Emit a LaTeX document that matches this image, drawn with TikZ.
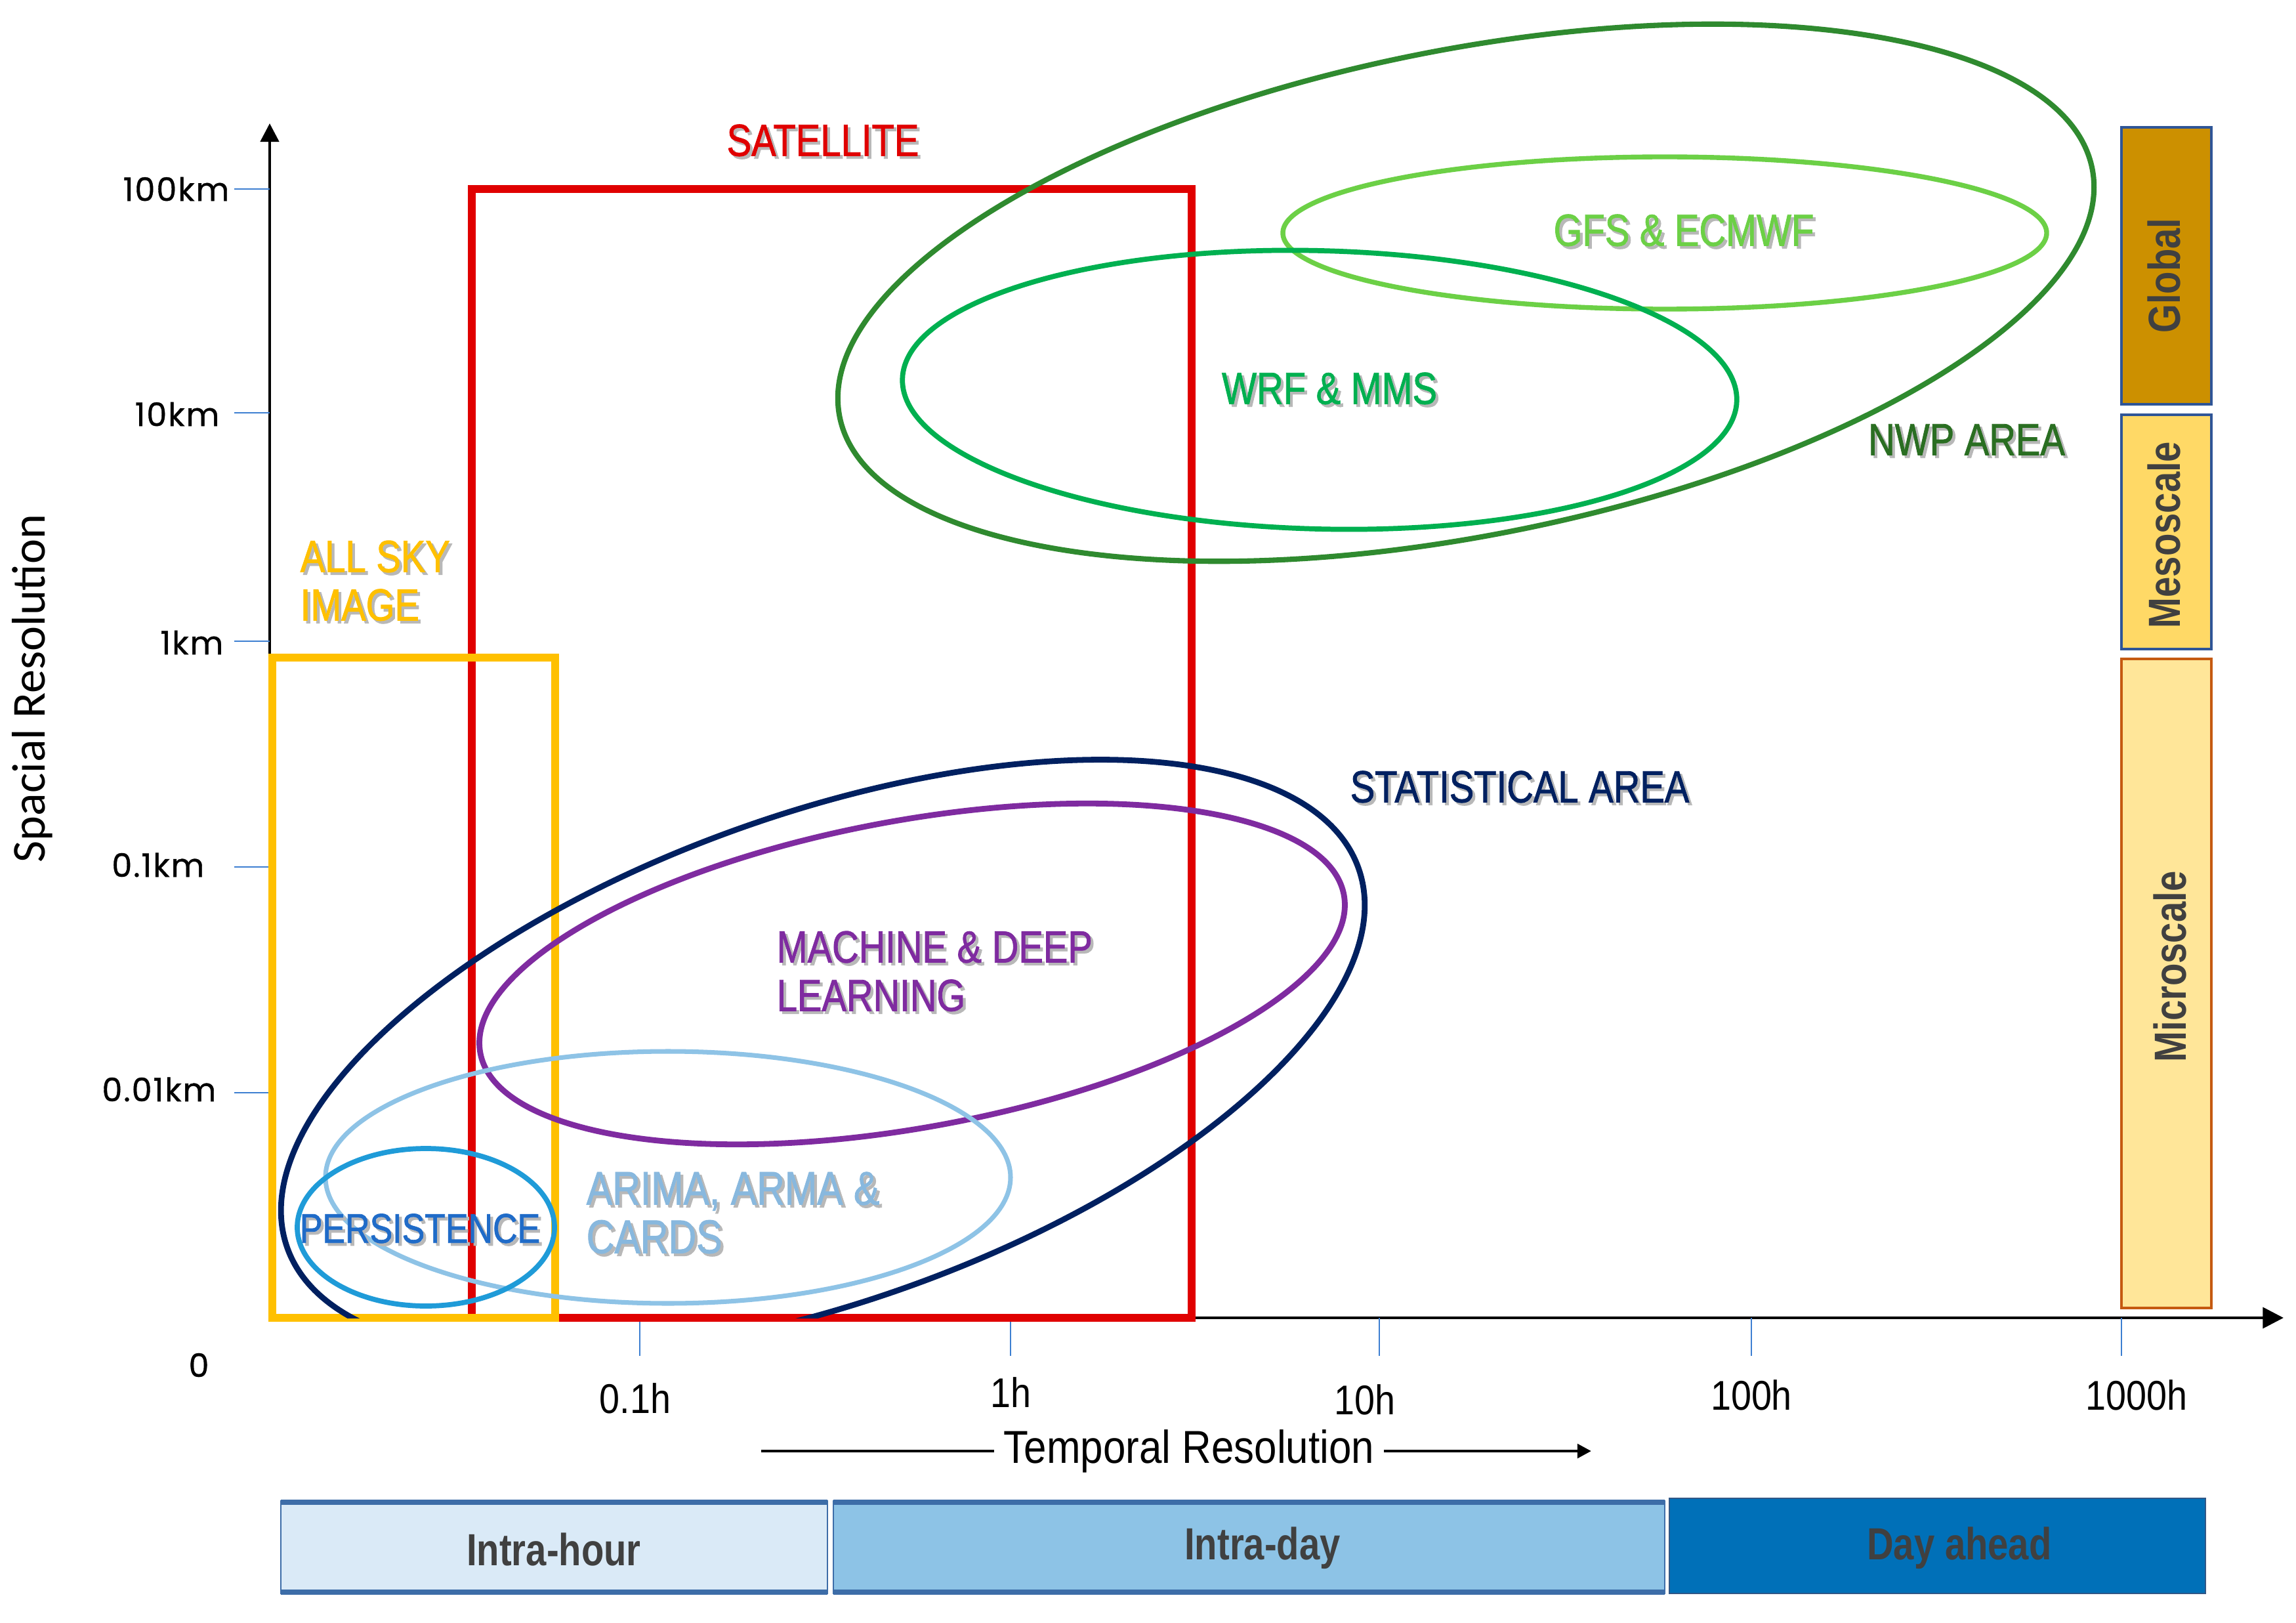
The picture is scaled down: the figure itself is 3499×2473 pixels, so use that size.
\documentclass[tikz,border=0pt]{standalone}
\usepackage{fontspec}
\setmainfont{Liberation Sans}
\newfontfamily\labfont[FakeStretch=0.82,FakeBold=1.2]{Liberation Sans}
\newfontfamily\boxfont[FakeStretch=0.82]{Liberation Sans}
\newfontfamily\tempfont[FakeStretch=0.88]{Liberation Sans}
\newfontfamily\tickfont[FakeBold=0.8,LetterSpace=4]{Poppins}
\newfontfamily\calfont{Carlito}
\usetikzlibrary{arrows.meta}
\definecolor{satred}{HTML}{E00000}
\definecolor{skyyel}{HTML}{FFC000}
\definecolor{nwpline}{HTML}{2F8A2F}
\definecolor{nwptext}{HTML}{2A6E22}
\definecolor{gfsgreen}{HTML}{6CD046}
\definecolor{wrfgreen}{HTML}{00B050}
\definecolor{navyc}{HTML}{002060}
\definecolor{purplec}{HTML}{7F2BA0}
\definecolor{arimaline}{HTML}{8EC3E6}
\definecolor{arimatext}{HTML}{88B8DE}
\definecolor{persline}{HTML}{1F9BD8}
\definecolor{perstext}{HTML}{1F6BC8}
\definecolor{tickblue}{HTML}{3D7FD1}
\definecolor{ihfill}{HTML}{DAEAF7}
\definecolor{idfill}{HTML}{8DC3E6}
\definecolor{dafill}{HTML}{0070B8}
\definecolor{boxedge}{HTML}{3D6DA8}
\definecolor{glfill}{HTML}{CC9000}
\definecolor{mesofill}{HTML}{FFD966}
\definecolor{microfill}{HTML}{FFE699}
\definecolor{baredge}{HTML}{2F5597}
\definecolor{microedge}{HTML}{C55A11}
\definecolor{textgray}{HTML}{404040}
\newcommand{\shd}[1]{\makebox[0pt][l]{\kern1.2pt\raisebox{-1.2pt}{\textcolor{black!28}{#1}}}#1}
\begin{document}
\begin{tikzpicture}[x=0.01cm,y=-0.01cm,
  lab/.style={font=\labfont\fontsize{19.5}{21}\selectfont, inner sep=0pt},
  boxlab/.style={font=\boxfont\bfseries\fontsize{19.5}{21}\selectfont, text=textgray, inner sep=0pt},
  ytl/.style={font=\tickfont\fontsize{14}{16}\selectfont, inner sep=0pt, anchor=east},
  xtl/.style={font=\tempfont\fontsize{18}{20}\selectfont, inner sep=0pt},
  tickline/.style={tickblue, line width=0.8pt},
  axisline/.style={black, line width=1.3pt},
  area/.style={line width=2.2pt}]
\useasboundingbox (0,0) rectangle (3499,2473);
\fill[white] (0,0) rectangle (3499,2473);

% axes
\coordinate (O) at (411,2008);
\coordinate (ytip) at (411,188);
\coordinate (xtip) at (3480,2008);
\draw[axisline, -{Triangle[length=8pt,width=8pt]}] (O) -- (ytip);
\draw[axisline, -{Triangle[length=9pt,width=9pt]}] (O) -- (xtip);

% y ticks
\draw[tickline] (357,288) -- (411,288);
\draw[tickline] (357,629) -- (411,629);
\draw[tickline] (357,977) -- (411,977);
\draw[tickline] (357,1321) -- (411,1321);
\draw[tickline] (357,1665) -- (411,1665);
\node[ytl] (t100km) at (350,288) {100km};
\node[ytl] (t10km) at (335,631) {10km};
\node[ytl] (t1km) at (341,979) {1km};
\node[ytl] (t01km) at (312,1318) {0.1km};
\node[ytl] (t001km) at (330,1660) {0.01km};
\node[font=\tickfont\fontsize{14}{16}\selectfont, inner sep=0pt] (t0) at (303,2080) {0};

% x ticks
\draw[tickline] (975,2008) -- (975,2066);
\draw[tickline] (1540,2008) -- (1540,2066);
\draw[tickline] (2102,2008) -- (2102,2066);
\draw[tickline] (2669,2008) -- (2669,2066);
\draw[tickline] (3233,2008) -- (3233,2066);
\node[xtl] (h01) at (968,2131) {0.1h};
\node[xtl] (h1) at (1540,2122) {1h};
\node[xtl] (h10) at (2080,2133) {10h};
\node[xtl] (h100) at (2669,2126) {100h};
\node[xtl] (h1000) at (3256,2126) {1000h};

% axis titles
\node[font=\tempfont\fontsize{20}{24}\selectfont, inner sep=4pt] (tres) at (1812,2211) {Temporal Resolution};
\coordinate (tl0) at (1160,2211);
\coordinate (tr1) at (2425,2211);
\draw[black, line width=1.4pt] (tl0) -- (tres.west);
\draw[black, line width=1.4pt, -{Triangle[length=6pt,width=6pt]}] (tres.east) -- (tr1);
\node[rotate=90, font=\calfont\fontsize{20.5}{24}\selectfont, inner sep=0pt] (sres) at (49,1049) {Spacial Resolution};

% bottom horizon boxes
\draw[boxedge, line width=0.6pt, fill=ihfill] (428,2287) rectangle (1261,2428);
\draw[boxedge, line width=2.2pt] (428,2289) -- (1261,2289) (428,2426) -- (1261,2426);
\draw[boxedge, line width=0.6pt, fill=idfill] (1270,2287) rectangle (2537,2428);
\draw[boxedge, line width=2.2pt] (1270,2289) -- (2537,2289) (1270,2426) -- (2537,2426);
\draw[boxedge!80!black, line width=0.8pt, fill=dafill] (2544,2283) rectangle (3361,2428);
\node[boxlab] (ih) at (844,2361) {Intra-hour};
\node[boxlab] (id) at (1924,2359) {Intra-day};
\node[boxlab] (da) at (2986,2359) {Day ahead};

% right scale bars
\draw[baredge, line width=1pt, fill=glfill] (3233,194) rectangle (3370,616);
\draw[baredge, line width=1pt, fill=mesofill] (3233,632) rectangle (3370,989);
\draw[microedge, line width=1pt, fill=microfill] (3233,1004) rectangle (3370,1993);
\node[boxlab, rotate=90] (gl) at (3298,420) {Global};
\node[boxlab, rotate=90] (ms) at (3298,815) {Mesoscale};
\node[boxlab, rotate=90] (mc) at (3307,1473) {Microscale};

% satellite and all sky image boxes
\draw[satred, line width=3.2pt] (719,288) rectangle (1816,2008);
\draw[skyyel, line width=3.2pt] (415,1002) rectangle (846,2008);

% NWP ellipses
\draw[nwpline, line width=2.3pt, rotate around={11.2:(2234,446)}] (2234,446) ellipse [x radius=973, y radius=370];
\draw[gfsgreen, line width=2.1pt] (2537,355) ellipse [x radius=582, y radius=116];
\draw[wrfgreen, area, rotate around={-1.5:(2011,594)}] (2011,594) ellipse [x radius=636, y radius=212];

% statistical ellipses
\begin{scope}
\clip (0,0) rectangle (3499,2008);
\draw[navyc, line width=2.5pt, rotate around={19.5:(1254,1612)}] (1254,1612) ellipse [x radius=866, y radius=372];
\end{scope}
\draw[purplec, line width=2.5pt, rotate around={10.35:(1390,1484)}] (1390,1484) ellipse [x radius=669, y radius=234];
\draw[arimaline, line width=2pt] (1018,1794) ellipse [x radius=522, y radius=192];
\draw[persline, area] (649,1870) ellipse [x radius=196, y radius=120];

% labels
\node[lab, text=satred] (satlab) at (1254,216) {\shd{SATELLITE}};
\node[lab, text=skyyel, align=left, anchor=west] (skylab) at (457,887) {\shd{ALL SKY}\\\shd{IMAGE}};
\node[lab, text=gfsgreen] (gfslab) at (2566,353) {\shd{GFS \& ECMWF}};
\node[lab, text=wrfgreen] (wrflab) at (2026,594) {\shd{WRF \& MMS}};
\node[lab, text=nwptext] (nwplab) at (2997,672) {\shd{NWP AREA}};
\node[lab, text=navyc] (statlab) at (2316,1201) {\shd{STATISTICAL AREA}};
\node[lab, text=purplec, align=left, anchor=west] (mllab) at (1183,1482) {\shd{MACHINE \& DEEP}\\\shd{LEARNING}};
\node[lab, text=arimatext, align=left, anchor=west, font=\labfont\fontsize{20.5}{21}\selectfont] (arlab) at (893,1850) {\shd{ARIMA, ARMA \&}\\\shd{CARDS}};
\node[lab, text=perstext, font=\labfont\fontsize{18}{21}\selectfont] (perslab) at (640,1874) {\shd{PERSISTENCE}};
\end{tikzpicture}
\end{document}
